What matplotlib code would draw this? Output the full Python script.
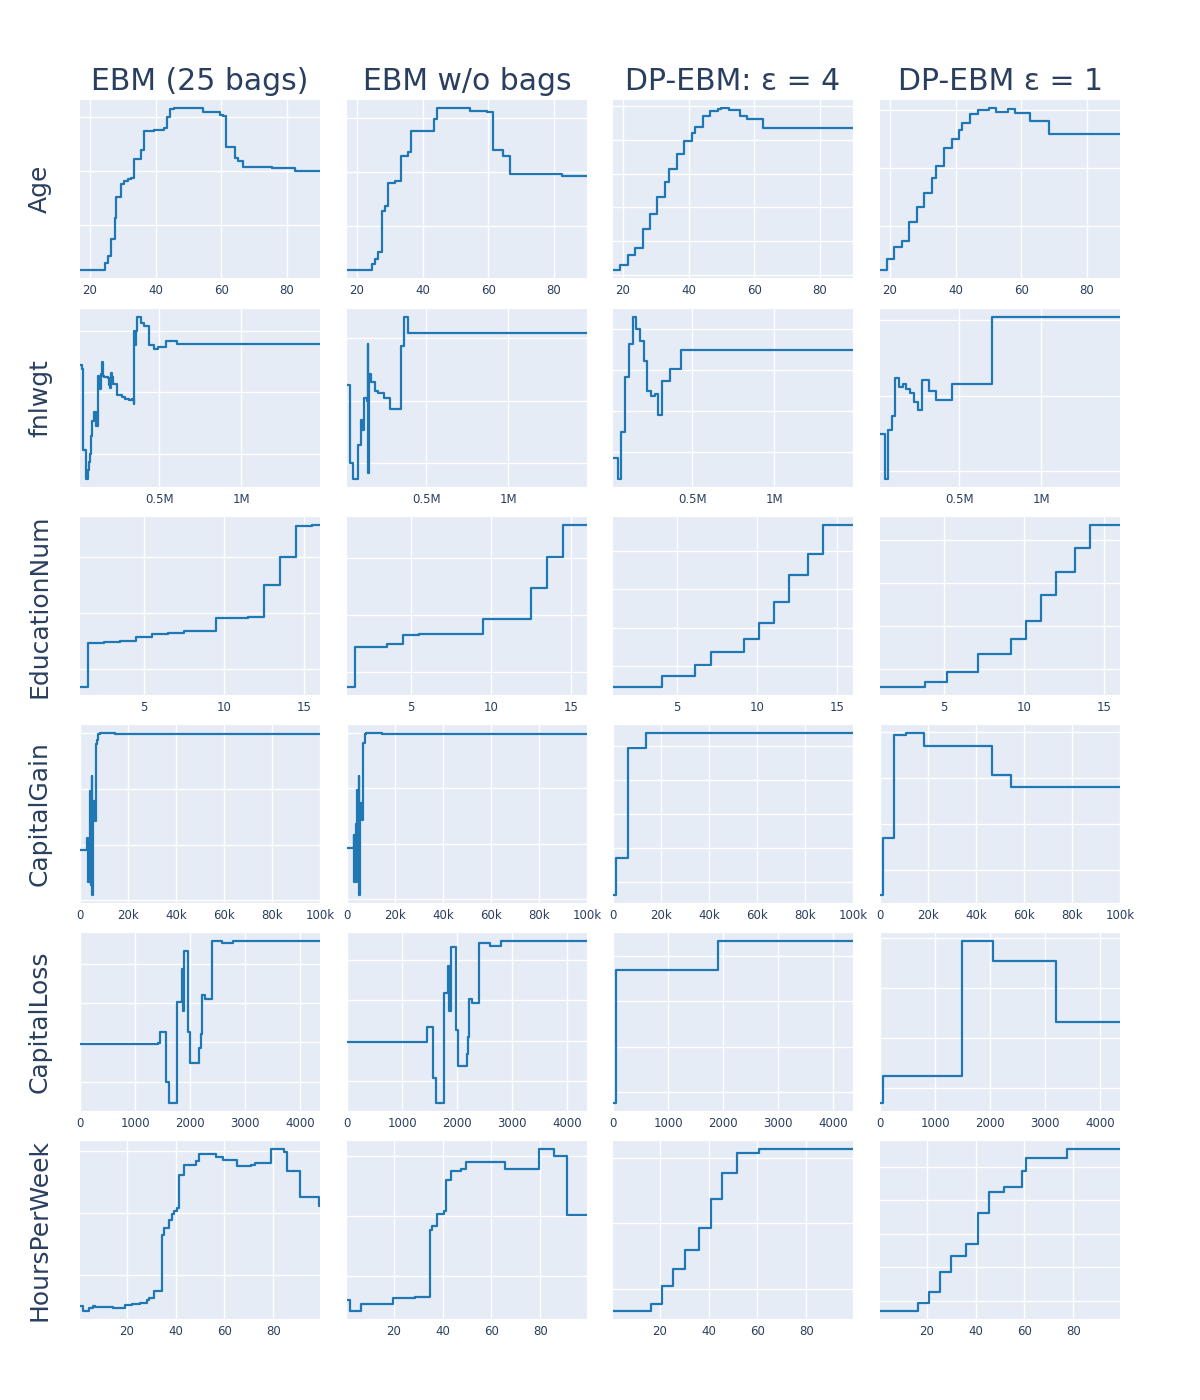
import matplotlib
matplotlib.use("Agg")
from matplotlib import pyplot as plt
from matplotlib.ticker import MultipleLocator

# column titles and row features
titles = ['EBM (25 bags)', 'EBM w/o bags', 'DP-EBM: ε = 4', 'DP-EBM ε = 1']
features = ['Age', 'fnlwgt', 'EducationNum', 'CapitalGain', 'CapitalLoss', 'HoursPerWeek']

# Age
age_x_bag = [17, 24.5, 25.5, 26.5, 27.5, 28, 29.5, 30.5, 31.5, 32.5, 33.5, 35.5, 36.5, 38, 39.5,
             42.5, 43.5, 44.5, 45.5, 54.5, 59.5, 60.5, 61.5, 64, 65, 66.5, 75.5, 82.5]
age_y_bag = [-1.84, -1.71, -1.59, -1.26, -0.88, -0.49, -0.24, -0.19, -0.16, -0.13, 0.22, 0.38, 0.73,
             0.74, 0.76, 0.79, 0.99, 1.14, 1.16, 1.09, 1.04, 1.01, 0.43, 0.23, 0.18, 0.06, 0.05, 0.0]
age_x_nobag = [17, 24.5, 25.5, 26.5, 27.5, 28.5, 29.5, 31.5, 33.5, 35.5, 36.5, 43.5, 44.5, 54.5,
               59.5, 61.5, 64.5, 66.5, 82.5]
age_y_nobag = [-1.82, -1.71, -1.61, -1.49, -0.72, -0.63, -0.2, -0.16, 0.3, 0.37, 0.77, 0.98, 1.19,
               1.13, 1.12, 0.41, 0.29, -0.04, -0.07]
age_x_dp4 = [17, 19.1, 21.5, 23.7, 26.0, 28.3, 30.5, 32.8, 34.0, 36.4, 38.6, 40.9, 41.9, 44.3,
             46.5, 48.8, 50.0, 52.2, 55.7, 57.9, 62.7]
age_y_dp4 = [-2.86, -2.72, -2.41, -2.2, -1.63, -1.2, -0.68, -0.24, 0.13, 0.58, 0.97, 1.2, 1.4,
             1.71, 1.85, 1.91, 1.95, 1.89, 1.72, 1.64, 1.35]
age_x_dp1 = [17, 19.1, 21.4, 23.7, 25.9, 28.3, 30.5, 32.7, 33.9, 36.4, 38.8, 41.0, 42.0, 44.4,
             46.7, 50.2, 52.3, 55.8, 58.1, 62.7, 68.4]
age_y_dp1 = [-1.75, -1.57, -1.35, -1.25, -0.93, -0.67, -0.43, -0.16, 0.05, 0.35, 0.5, 0.67, 0.79,
             0.94, 1.01, 1.04, 0.98, 1.03, 0.96, 0.81, 0.6]

# fnlwgt
fnl_x_bag = [12285, 26000, 31000, 47000, 51000, 59000, 67000, 75000, 81000, 87000, 96000, 108000,
             112000, 120000, 128000, 134000, 140000, 146000, 152000, 160000, 181000, 189000,
             197000, 203000, 209000, 217000, 242000, 270000, 291000, 311000, 331000, 341000,
             345000, 352000, 358000, 364000, 386000, 402000, 433000, 467000, 488000, 539000, 609000]
fnl_y_bag = [0.45, 0.38, -0.93, -0.96, -1.4, -1.26, -1.12, -0.99, -0.71, -0.47, -0.32, -0.33, -0.55,
             0.27, 0.19, 0.05, 0.3, 0.49, 0.27, 0.25, 0.23, 0.12, 0.07, 0.32, 0.25, 0.14, -0.04,
             -0.08, -0.11, -0.12, -0.1, -0.18, 0.99, 0.77, 0.99, 1.22, 1.12, 1.07, 0.77, 0.71,
             0.74, 0.83, 0.78]
fnl_x_nobag = [12285, 28000, 30000, 49000, 79000, 98000, 107000, 116000, 133000, 140000, 144000,
               149000, 158000, 186000, 205000, 237000, 274000, 342000, 360000, 386000]
fnl_y_nobag = [0.25, -0.35, -0.99, -1.25, -0.7, -0.3, -0.46, 0.05, 0.0, 0.91, -1.16, 0.43, 0.3,
               0.16, 0.13, 0.04, -0.13, 0.88, 1.34, 1.09]
fnl_x_dp4 = [12285, 40000, 63000, 86000, 110000, 133000, 156000, 179000, 202000, 223000, 244000,
             270000, 291000, 314000, 360000, 430000]
fnl_y_dp4 = [-1.15, -1.66, -0.51, 0.84, 1.63, 2.3, 2.0, 1.71, 1.23, 0.48, 0.37, 0.41, -0.1, 0.73,
             1.04, 1.49]
fnl_x_dp1 = [12285, 42000, 60000, 84000, 107000, 130000, 153000, 172000, 198000, 221000, 244000,
             267000, 312000, 358000, 451000, 702000]
fnl_y_dp1 = [-0.51, -1.1, -0.45, -0.27, 0.24, 0.11, 0.15, 0.09, 0.03, -0.08, -0.19, 0.21, 0.06,
             -0.05, 0.15, 1.04]

# EducationNum
edu_x_bag = [1, 1.5, 2.5, 3.5, 4.5, 5.5, 6.5, 7.5, 9.5, 11.5, 12.5, 13.5, 14.5, 15.5]
edu_y_bag = [-1.31, -0.54, -0.52, -0.5, -0.42, -0.37, -0.35, -0.32, -0.08, -0.07, 0.5, 0.99, 1.55, 1.56]
edu_x_nobag = [1, 1.5, 3.5, 4.5, 5.5, 9.5, 12.5, 13.5, 14.5]
edu_y_nobag = [-1.27, -0.56, -0.52, -0.36, -0.33, -0.08, 0.47, 1.01, 1.58]
edu_x_dp4 = [1, 4.05, 6.14, 7.1, 9.2, 10.14, 11.07, 12.0, 13.17, 14.1]
edu_y_dp4 = [-1.54, -1.25, -0.96, -0.62, -0.3, 0.11, 0.66, 1.37, 1.92, 2.67]
edu_x_dp1 = [1, 3.81, 5.21, 7.1, 9.19, 10.12, 11.07, 12.0, 13.17, 14.1]
edu_y_dp1 = [-1.43, -1.31, -1.09, -0.66, -0.31, 0.11, 0.71, 1.25, 1.81, 2.35]

# CapitalGain
cg_x_bag = [0, 2900, 3200, 4000, 4300, 4600, 4800, 5100, 5400, 6200, 6600, 7000, 7600, 8300, 14500]
cg_y_bag = [-0.09, 0.12, -0.66, 0.36, 0.96, -0.72, 1.23, -0.9, 0.78, 0.42, 1.8, 1.88, 1.98, 2.0, 1.98]
cg_x_nobag = [0, 2800, 3100, 3900, 4200, 4500, 4800, 5100, 5400, 6300, 6800, 7300, 8000, 14500]
cg_y_nobag = [-0.08, 0.16, -0.68, 0.35, 0.97, -0.68, 1.21, -0.92, 0.73, 0.42, 1.82, 1.97, 1.99, 1.97]
cg_x_dp4 = [0, 1300, 6100, 13900]
cg_y_dp4 = [-0.37, 0.72, 3.95, 4.38]
cg_x_dp1 = [0, 1100, 5800, 10700, 18400, 46800, 54600]
cg_y_dp1 = [-0.54, 0.7, 2.92, 2.97, 2.68, 2.07, 1.79]

# CapitalLoss
cl_x_bag = [0, 1414, 1455, 1560, 1622, 1753, 1850, 1871, 1885, 1968, 2003, 2162, 2190, 2211, 2273,
            2391, 2578, 2786]
cl_y_bag = [-0.04, -0.02, 0.25, -1.01, -1.54, 1.03, 1.85, 0.8, 2.32, 0.27, -0.52, -0.14, 0.21, 1.19,
            1.09, 2.56, 2.52, 2.57]
cl_x_nobag = [0, 1444, 1562, 1624, 1756, 1839, 1860, 1881, 1978, 2006, 2172, 2193, 2207, 2262, 2394,
              2589, 2790]
cl_y_nobag = [-0.04, 0.33, -0.92, -1.54, 1.19, 1.85, 0.73, 2.33, 0.27, -0.63, -0.32, 0.1, 1.03, 0.93,
              2.43, 2.36, 2.47]
cl_x_dp4 = [0, 56, 1904]
cl_y_dp4 = [-0.25, 2.7, 3.34]
cl_x_dp1 = [0, 56, 1496, 2046, 3202]
cl_y_dp1 = [-0.29, 0.25, 2.94, 2.55, 1.32]

# HoursPerWeek
hw_x_bag = [1, 2.3, 4.5, 6.25, 7.3, 14.4, 19.5, 22.2, 25.3, 27.3, 28.4, 29.2, 31.25, 34.5, 35.5, 37.5,
            38.6, 39.5, 40.6, 41.6, 43.4, 48.4, 49.5, 56.6, 59.4, 65.2, 70.9, 72.5, 78.9, 84.4, 85.5,
            90.8, 98.6]
hw_y_bag = [-1.5, -1.58, -1.53, -1.5, -1.52, -1.53, -1.48, -1.47, -1.46, -1.45, -1.41, -1.37, -1.26,
            -0.36, -0.24, -0.12, -0.02, 0.03, 0.08, 0.62, 0.78, 0.83, 0.95, 0.91, 0.86, 0.75, 0.78,
            0.81, 1.03, 0.98, 0.68, 0.26, 0.12]
hw_x_nobag = [1, 2.2, 6.6, 19.7, 28.6, 34.7, 35.6, 37.7, 40.5, 41.6, 43.4, 47.5, 49.5, 65.5, 79.2,
              85.5, 90.8]
hw_y_nobag = [-1.41, -1.59, -1.48, -1.38, -1.35, -0.23, -0.17, 0.03, 0.08, 0.6, 0.75, 0.79, 0.9,
              0.78, 1.12, 1.01, 0.01]
hw_x_dp4 = [1, 16.4, 20.9, 25.5, 30.2, 36.25, 40.9, 45.5, 51.7, 60.8]
hw_y_dp4 = [-1.33, -1.22, -0.95, -0.7, -0.41, -0.07, 0.37, 0.77, 1.07, 1.13]
hw_x_dp1 = [1, 16.4, 20.9, 25.5, 30.1, 36.2, 40.9, 45.4, 51.5, 59.1, 60.7, 77.5]
hw_y_dp1 = [-0.31, -0.07, 0.26, 0.85, 1.35, 1.71, 2.63, 3.26, 3.41, 3.89, 4.27, 4.54]

# x range and ticks per feature
x_max = [90, 1484705, 16, 99999, 4356, 99]
x_ticks = [[20, 40, 60, 80],
           [500000, 1000000],
           [5, 10, 15],
           [0, 20000, 40000, 60000, 80000, 100000],
           [0, 1000, 2000, 3000, 4000],
           [20, 40, 60, 80]]
x_labels = [['20', '40', '60', '80'],
            ['0.5M', '1M'],
            ['5', '10', '15'],
            ['0', '20k', '40k', '60k', '80k', '100k'],
            ['0', '1000', '2000', '3000', '4000'],
            ['20', '40', '60', '80']]

curves = [
    [(age_x_bag, age_y_bag), (age_x_nobag, age_y_nobag), (age_x_dp4, age_y_dp4), (age_x_dp1, age_y_dp1)],
    [(fnl_x_bag, fnl_y_bag), (fnl_x_nobag, fnl_y_nobag), (fnl_x_dp4, fnl_y_dp4), (fnl_x_dp1, fnl_y_dp1)],
    [(edu_x_bag, edu_y_bag), (edu_x_nobag, edu_y_nobag), (edu_x_dp4, edu_y_dp4), (edu_x_dp1, edu_y_dp1)],
    [(cg_x_bag, cg_y_bag), (cg_x_nobag, cg_y_nobag), (cg_x_dp4, cg_y_dp4), (cg_x_dp1, cg_y_dp1)],
    [(cl_x_bag, cl_y_bag), (cl_x_nobag, cl_y_nobag), (cl_x_dp4, cl_y_dp4), (cl_x_dp1, cl_y_dp1)],
    [(hw_x_bag, hw_y_bag), (hw_x_nobag, hw_y_nobag), (hw_x_dp4, hw_y_dp4), (hw_x_dp1, hw_y_dp1)],
]

text_color = '#2a3f5f'
W, H = 1200, 1400
fig = plt.figure(figsize=(12, 14), dpi=100)

col_left = [80, 347, 613, 880]
row_top = [100, 309, 517, 725, 933, 1141]
pw, ph = 240, 178

for r in range(6):
    for c in range(4):
        ax = fig.add_axes([col_left[c] / W, 1 - (row_top[r] + ph) / H, pw / W, ph / H])
        ax.set_facecolor('#E5ECF6')
        for s in ax.spines.values():
            s.set_visible(False)
        xs, ys = curves[r][c]
        ax.step(list(xs) + [x_max[r]], list(ys) + [ys[-1]], where='post',
                color='#1f77b4', lw=1.6)
        ax.set_xlim(xs[0], x_max[r])
        ax.margins(y=0.05)
        ax.yaxis.set_major_locator(MultipleLocator(1))
        ax.set_xticks(x_ticks[r])
        ax.set_xticklabels(x_labels[r])
        ax.set_yticklabels([])
        ax.tick_params(length=0, labelsize=8.5, colors=text_color, pad=4)
        ax.grid(True, color='white', lw=1.0)
        ax.set_axisbelow(True)
        if c == 0:
            fig.text(40 / W, 1 - (row_top[r] + ph / 2) / H, features[r], rotation=90,
                     ha='center', va='center', fontsize=18, color=text_color)
    if r == 0:
        for c in range(4):
            fig.text((col_left[c] + pw / 2) / W, 1 - 81 / H, titles[c], ha='center',
                     va='center', fontsize=21.5, color=text_color)

fig.savefig('out.png', dpi=100, facecolor='white')
